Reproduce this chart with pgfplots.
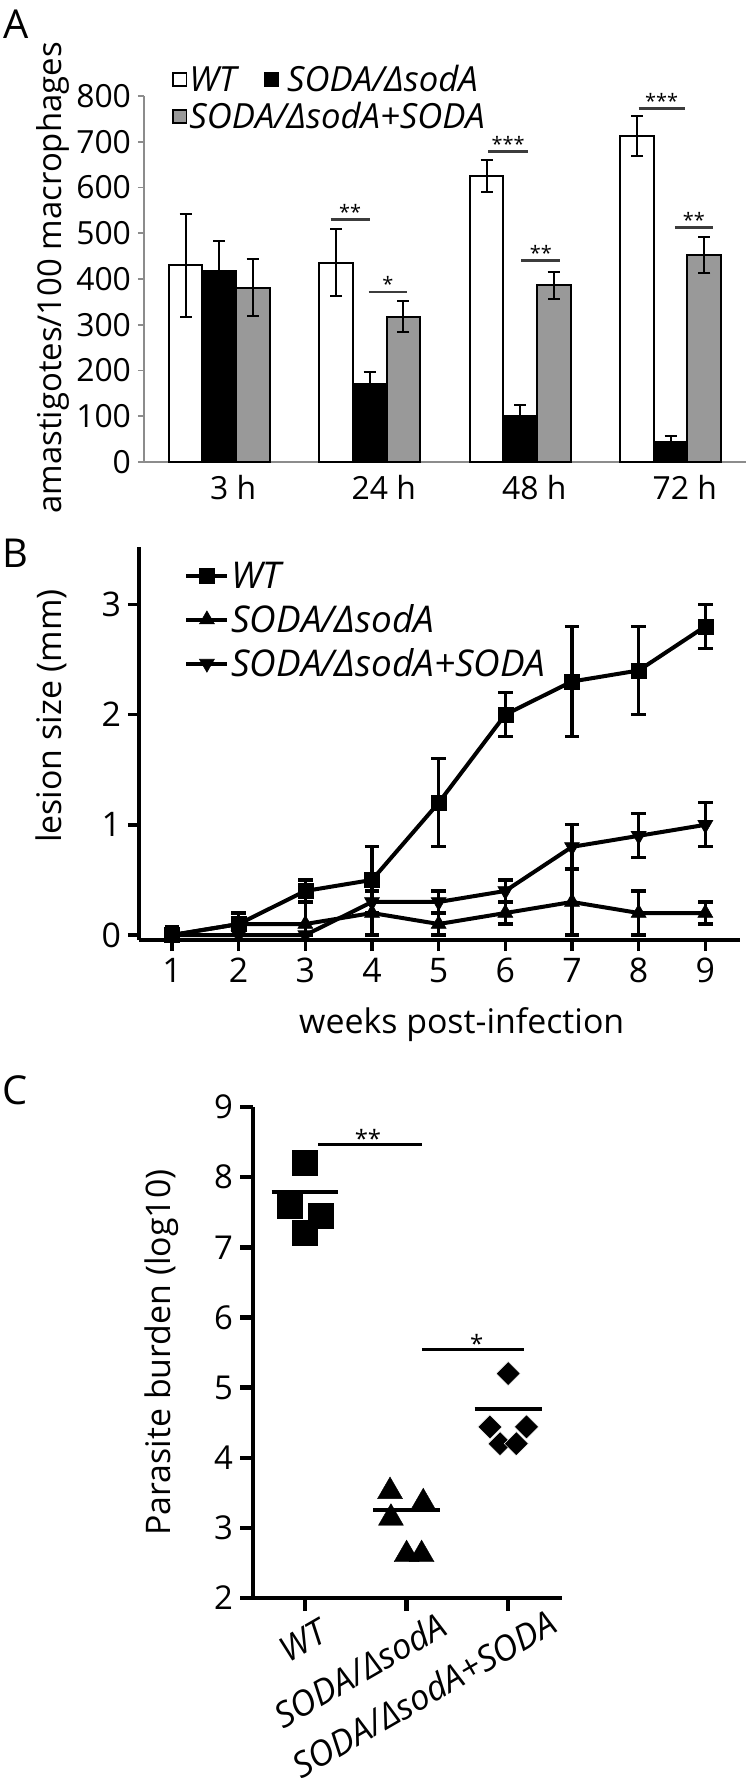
\documentclass[border=0pt]{standalone}
\usepackage{pgfplots}
\pgfplotsset{compat=1.18}
\usepackage{fontspec}
\setmainfont{Open Sans}
\newcommand\fs[1]{\fontsize{#1}{#1}\selectfont}
\definecolor{cgray}{RGB}{153,153,153}
\definecolor{axgray}{RGB}{140,140,140}
\definecolor{siggray}{RGB}{60,60,60}
\begin{document}
\begin{tikzpicture}
\path[use as bounding box] (0,0) rectangle (375bp,-894.5bp);
\node[font=\fs{20}] at (8bp,-12bp) {A};
\node[font=\fs{20}] at (7.5bp,-276.5bp) {B};
\node[font=\fs{20}] at (7.5bp,-545bp) {C};

% ---------------- Panel A ----------------
\begin{axis}[
  at={(72bp,-231bp)}, anchor=south west,
  scale only axis, width=301bp, height=183bp,
  xmin=-0.5, xmax=3.5, ymin=0, ymax=800,
  axis lines=left, axis line style={-, draw=axgray, line width=1bp},
  xtick={0,1,2,3}, xticklabels={3 h,24 h,48 h,72 h},
  ytick={0,100,...,800},
  x tick style={draw=none}, y tick style={draw=axgray, line width=0.8bp},
  major tick length=3bp, tick align=outside,
  /pgf/number format/assume math mode=true,
  ticklabel style={font=\fs{16}},
  xticklabel style={xshift=7bp},
  ylabel={amastigotes/100 macrophages},
  ylabel style={font=\fs{16.5}, at={(axis description cs:-0.152,0.503)}, anchor=center},
  clip=false,
  legend columns=2,
  legend cell align=left,
  legend style={draw=none, fill=none, inner sep=0pt,
     at={(axis description cs:0.0465,1.085)}, anchor=north west,
     font=\itshape\fs{17.4}, row sep=1bp,
     nodes={inner sep=1bp, text height=12bp, text depth=3.5bp},
     /tikz/every even column/.append style={column sep=13bp}},
]
\addplot[ybar, bar width=16.75bp, bar shift=0bp, fill=white, draw=black, line width=1bp,
  legend image code/.code={\draw[fill=white,draw=black,line width=0.8bp] (0bp,-1.7bp) rectangle (6.7bp,5bp);},
  error bars/.cd, y dir=both, y explicit, error bar style={line width=1bp, black},
  error mark options={rotate=90, mark size=3bp, line width=1bp, black}]
  table[x=x, y=y, y error=e] {
x y e
-0.2226 430 112
0.7774 436 73
1.7774 626 35
2.7774 712 44
};
\addlegendentry{WT}
\addplot[ybar, bar width=16.75bp, bar shift=0bp, fill=black, draw=black, line width=1bp,
  legend image code/.code={\draw[fill=black,draw=black,line width=0.8bp] (0bp,-1.7bp) rectangle (6.7bp,5bp);},
  error bars/.cd, y dir=both, y explicit, error bar style={line width=1bp, black},
  error mark options={rotate=90, mark size=3bp, line width=1bp, black}]
  table[x=x, y=y, y error=e] {
x y e
0 418 65
1 171 26
2 100 24
3 43 13
};
\addlegendentry{\hspace{3bp}SODA/ΔsodA}
\addplot[ybar, bar width=16.75bp, bar shift=0bp, fill=cgray, draw=black, line width=1bp,
  legend image code/.code={\draw[fill=cgray,draw=black,line width=0.8bp] (0bp,-1.7bp) rectangle (6.7bp,5bp);},
  error bars/.cd, y dir=both, y explicit, error bar style={line width=1bp, black},
  error mark options={rotate=90, mark size=3bp, line width=1bp, black}]
  table[x=x, y=y, y error=e] {
x y e
0.2226 381 62
1.2226 318 34
2.2226 386 30
3.2226 452 39
};
\addlegendentry{\makebox[0pt][l]{SODA/ΔsodA+SODA}}
% significance
\draw[siggray, line width=1.3bp] (axis cs:0.74,530) -- (axis cs:1.0,530);
\node[font=\fs{10}, anchor=base, inner sep=0] at (axis cs:0.87,530) {**};
\draw[siggray, line width=1.3bp] (axis cs:0.993,372) -- (axis cs:1.247,372);
\node[font=\fs{10}, anchor=base, inner sep=0] at (axis cs:1.12,372) {*};
\draw[siggray, line width=1.3bp] (axis cs:1.787,679) -- (axis cs:2.053,679);
\node[font=\fs{10}, anchor=base, inner sep=0] at (axis cs:1.92,679) {***};
\draw[siggray, line width=1.3bp] (axis cs:2.007,440) -- (axis cs:2.267,440);
\node[font=\fs{10}, anchor=base, inner sep=0] at (axis cs:2.137,440) {**};
\draw[siggray, line width=1.3bp] (axis cs:2.787,773) -- (axis cs:3.093,773);
\node[font=\fs{10}, anchor=base, inner sep=0] at (axis cs:2.94,773) {***};
\draw[siggray, line width=1.3bp] (axis cs:3.027,513) -- (axis cs:3.28,513);
\node[font=\fs{10}, anchor=base, inner sep=0] at (axis cs:3.153,513) {**};
\end{axis}

% ---------------- Panel B ----------------
\begin{axis}[
  at={(69.5bp,-470bp)}, anchor=south west,
  scale only axis, width=300.5bp, height=196.5bp,
  xmin=0.505, xmax=9.52, ymin=-0.045, ymax=3.52,
  axis lines=left, axis line style={-, line width=1.7bp},
  xtick={1,...,9}, ytick={0,1,2,3},
  tick style={line width=1.7bp, black}, major tick length=5.5bp, tick align=outside,
  /pgf/number format/assume math mode=true,
  ticklabel style={font=\fs{17}},
  xlabel={weeks post-infection},
  xlabel style={font=\fs{17}, at={(axis description cs:0.537,-0.214)}, anchor=center},
  ylabel={lesion size (mm)},
  ylabel style={font=\fs{17}, at={(axis description cs:-0.146,0.57)}, anchor=center},
  clip mode=individual,
  legend cell align=left,
  legend style={draw=none, fill=none, inner sep=0pt,
     at={(axis description cs:0.0749,0.965)}, anchor=north west,
     font=\itshape\fs{18.5}, row sep=4bp,
     nodes={inner sep=1bp, text height=12.5bp, text depth=3.5bp}},
  legend image code/.code={\draw[mark repeat=2,mark phase=2,yshift=1.8bp,#1] plot coordinates {(0bp,0bp) (10.25bp,0bp) (20.5bp,0bp)};},
]
\addplot[black, line width=2bp, mark=square*, mark size=3.75bp, mark options={solid, line width=0.3bp},
  error bars/.cd, y dir=both, y explicit, error bar style={line width=1.6bp},
  error mark options={rotate=90, mark size=3.6bp, line width=1.6bp}]
  table[x=x, y=y, y error plus=ep, y error minus=em] {
x y ep em
1 0 0.08 0.0
2 0.1 0.1 0.1
3 0.4 0.1 0.1
4 0.5 0.3 0.3
5 1.2 0.4 0.4
6 2.0 0.2 0.2
7 2.3 0.5 0.5
8 2.4 0.4 0.4
9 2.8 0.2 0.2
};
\addlegendentry{WT}
\addplot[black, line width=2bp, mark=triangle*, mark size=4.3bp, mark options={solid, line width=0.3bp},
  error bars/.cd, y dir=both, y explicit, error bar style={line width=1.6bp},
  error mark options={rotate=90, mark size=3.6bp, line width=1.6bp}]
  table[x=x, y=y, y error plus=ep, y error minus=em] {
x y ep em
1 0 0 0
2 0.1 0.05 0.05
3 0.1 0.2 0.1
4 0.2 0.2 0.2
5 0.1 0.1 0.1
6 0.2 0.1 0.1
7 0.3 0.3 0.3
8 0.2 0.2 0.2
9 0.2 0.1 0.1
};
\addlegendentry{SODA/ΔsodA}
\addplot[black, line width=2bp, mark=triangle*, mark size=4.3bp, mark options={solid, rotate=180, line width=0.3bp},
  error bars/.cd, y dir=both, y explicit, error bar style={line width=1.6bp},
  error mark options={rotate=90, mark size=3.6bp, line width=1.6bp}]
  table[x=x, y=y, y error plus=ep, y error minus=em] {
x y ep em
1 0 0 0
2 0 0 0
3 0 0 0
4 0.3 0.1 0.1
5 0.3 0.1 0.1
6 0.4 0.1 0.1
7 0.8 0.2 0.2
8 0.9 0.2 0.2
9 1.0 0.2 0.2
};
\addlegendentry{SODA/ΔsodA+SODA}
\end{axis}

% ---------------- Panel C ----------------
\begin{axis}[
  at={(126.5bp,-799bp)}, anchor=south west,
  scale only axis, width=154.5bp, height=245.5bp,
  xmin=0.488, xmax=3.53, ymin=2, ymax=9,
  axis lines=left, axis line style={-, line width=2.2bp},
  xtick={1,2,3}, xticklabels={{},{},{}}, ytick={2,...,9},
  tick style={line width=2.2bp, black}, major tick length=6.5bp, tick align=outside,
  /pgf/number format/assume math mode=true,
  yticklabel style={font=\fs{16.5}},
  ylabel={Parasite burden (log10)},
  ylabel style={font=\fs{17}, at={(axis description cs:-0.295,0.5)}, anchor=center},
  clip=false,
]
\addplot[only marks, black, mark=square*, mark size=6.25bp, mark options={line width=0.2bp}]
  coordinates {(1.0,8.21) (0.845,7.59) (1.155,7.45) (1.0,7.21)};
\addplot[only marks, black, mark=triangle*, mark size=7.2bp, mark options={line width=0.2bp}]
  coordinates {(1.837,3.52) (2.164,3.36) (1.846,3.14) (2.0,2.62) (2.148,2.62)};
\addplot[only marks, black, mark=square*, mark size=4.25bp, mark options={rotate=45, line width=0.2bp, draw=white}]
  coordinates {(3.0,5.2) (2.82,4.44) (3.18,4.44) (2.92,4.2) (3.08,4.2)};
% means
\addplot[black, line width=2bp] coordinates {(0.672,7.79) (1.328,7.79)};
\addplot[black, line width=2bp] coordinates {(1.672,3.26) (2.329,3.26)};
\addplot[black, line width=2bp] coordinates {(2.67,4.69) (3.33,4.69)};
% significance
\draw[black, line width=1.3bp] (axis cs:1.13,8.47) -- (axis cs:2.15,8.47);
\node[font=\fs{12}, anchor=base, inner sep=0, yshift=-1.5bp] at (axis cs:1.62,8.47) {**};
\draw[black, line width=1.3bp] (axis cs:2.15,5.54) -- (axis cs:3.16,5.54);
\node[font=\fs{12}, anchor=base, inner sep=0, yshift=-1.5bp] at (axis cs:2.69,5.54) {*};
% category labels
\node[font=\itshape\fs{17.5}, rotate=30, anchor=center] at (axis cs:0.98,1.39) {WT};
\node[font=\itshape\fs{17.5}, rotate=30, anchor=center] at (axis cs:1.54,0.975) {SODA/ΔsodA};
\node[font=\itshape\fs{17.5}, rotate=30, anchor=center] at (axis cs:2.17,0.63) {SODA/ΔsodA+SODA};
\end{axis}
\end{tikzpicture}
\end{document}
